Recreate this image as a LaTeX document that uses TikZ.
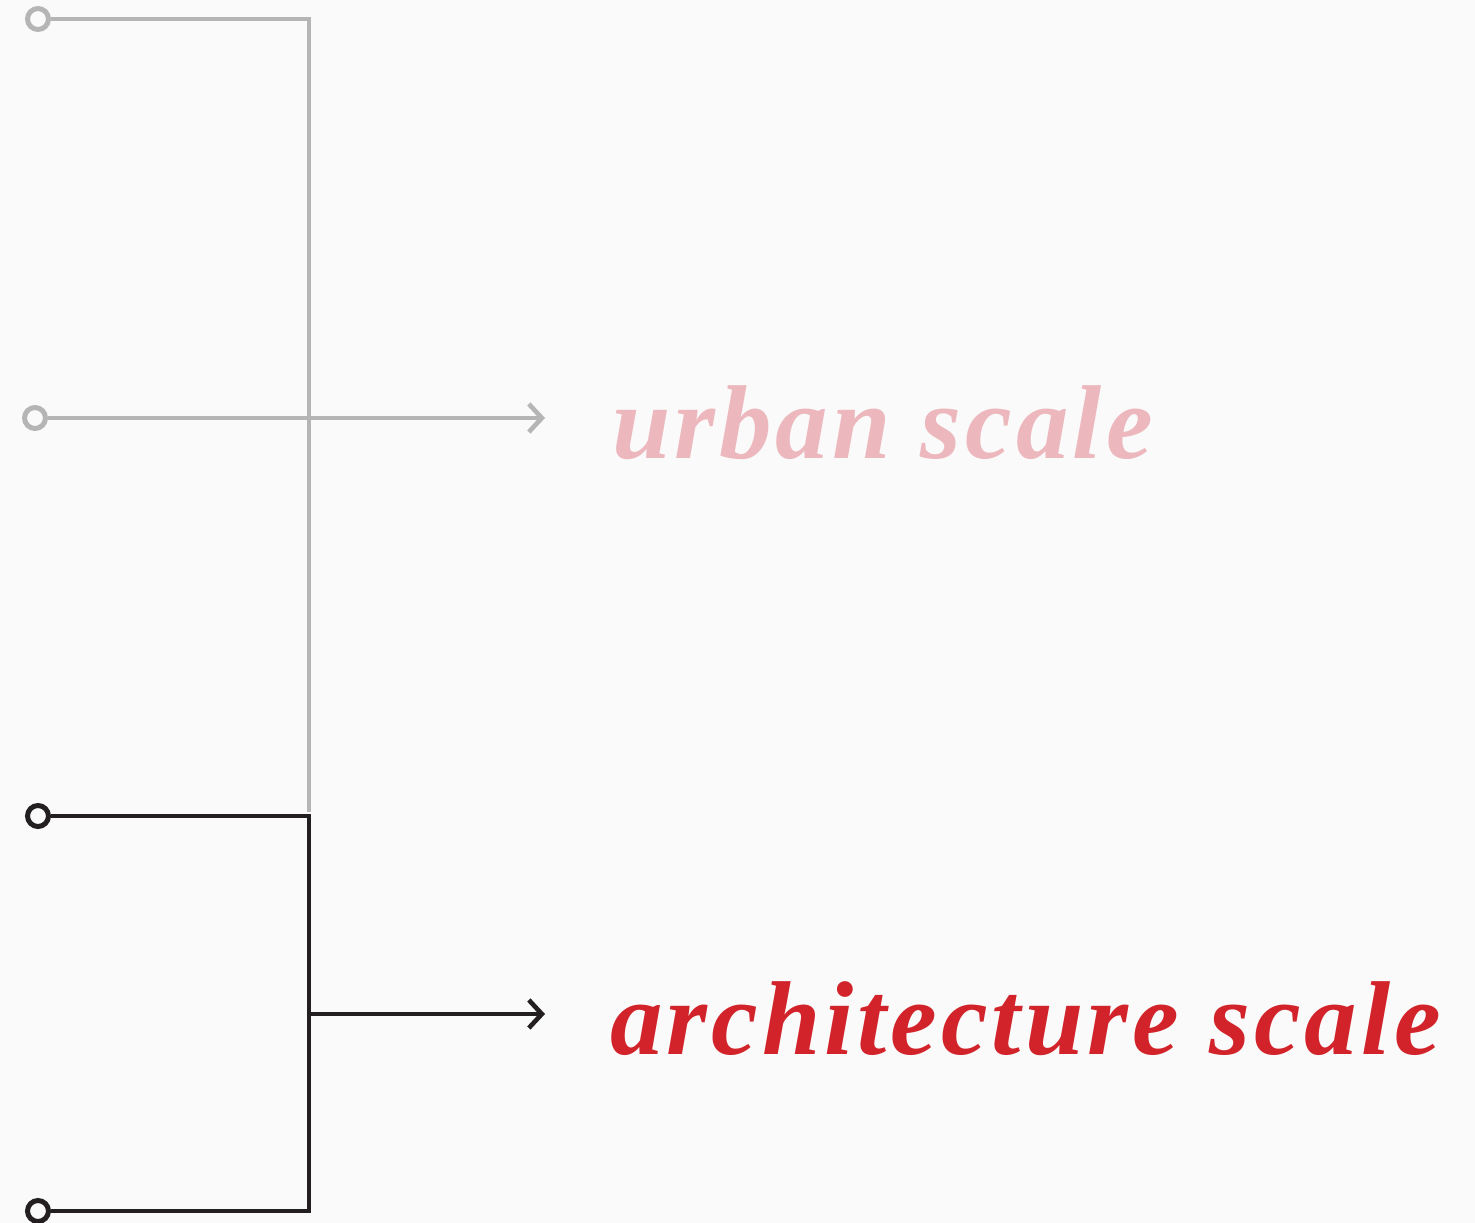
\documentclass[tikz,border=0pt]{standalone}
\usepackage{fontspec}
\usetikzlibrary{arrows.meta}
\newfontfamily\scalefont[LetterSpace=3.8]{Liberation Serif}
\definecolor{bgcol}{HTML}{FAFAFA}
\definecolor{faded}{HTML}{B5B5B5}
\definecolor{ink}{HTML}{231F20}
\definecolor{pinklabel}{HTML}{EDB8BD}
\definecolor{redlabel}{HTML}{D2232A}
\begin{document}
\begin{tikzpicture}[x=1pt,y=-1pt,
  port/.style={circle,draw,line width=5pt,fill=bgcol,minimum size=21pt,inner sep=0pt},
  wire/.style={line width=4.6pt},
  tip/.style={-{Straight Barb[length=13pt,width=28pt,line width=4.6pt]}},
  label/.style={anchor=base west,inner sep=0pt,font=\scalefont\bfseries\itshape\fontsize{105}{110}\selectfont}]
  \fill[bgcol] (0,0) rectangle (1475,1223);
  \useasboundingbox (0,0) rectangle (1475,1223);

  % faded upper group
  \node[port,draw=faded] (p1) at (38,19) {};
  \node[port,draw=faded] (p2) at (35,418) {};
  \coordinate (g1) at (309,19);
  \coordinate (g2) at (309,812);
  \coordinate (gout) at (545,418);
  \draw[wire,faded] (p1.east) -- (g1) -- (g2);
  \draw[wire,faded,tip] (p2.east) -- (gout);
  \node[label,text=pinklabel] (urban) at (612,458) {urban scale};

  % active lower group
  \node[port,draw=ink] (p3) at (38,816) {};
  \node[port,draw=ink] (p4) at (38,1211) {};
  \coordinate (b1) at (309,816);
  \coordinate (b2) at (309,1211);
  \coordinate (bmid) at (309,1014);
  \coordinate (bout) at (545,1014);
  \draw[wire,ink] (p3.east) -- (b1) -- (b2) -- (p4.east);
  \draw[wire,ink,tip] (bmid) -- (bout);
  \node[label,text=redlabel] (arch) at (610,1054) {architecture scale};
\end{tikzpicture}
\end{document}
